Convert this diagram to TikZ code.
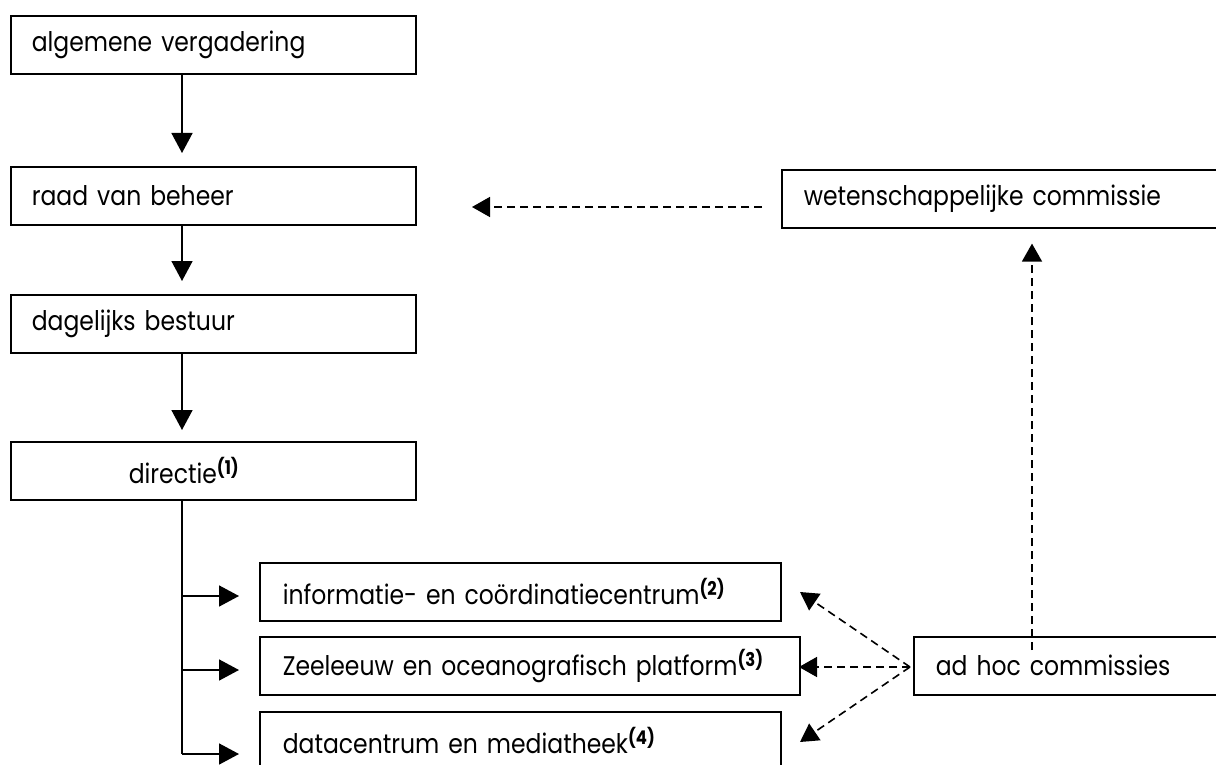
\documentclass[tikz,border=0pt]{standalone}
\usepackage{fontspec}
\setmainfont{Poppins}[FakeStretch=0.87]
\usetikzlibrary{arrows.meta}

\tikzset{
  orgbox/.style={draw, line width=1.6pt, anchor=north west, minimum height=58pt,
    inner xsep=21pt, inner ysep=0pt, align=left, font=\fontsize{27}{32}\selectfont},
  solidarrow/.style={line width=1.6pt, -{Triangle[length=20pt,width=21pt]}},
  dasharrow/.style={line width=1.6pt, dash pattern=on 8pt off 5pt,
    -{Triangle[length=18pt,width=20pt]}},
}
\newcommand{\noot}[1]{\textsuperscript{\bfseries(#1)}}

\begin{document}
\begin{tikzpicture}[x=1pt,y=-1pt]

    \useasboundingbox (0,0) rectangle (1216,765);
    \clip (0,0) rectangle (1216,765);

    % Draw the main chain
    \node[orgbox, text width=363pt] (alg) at (10,15) {algemene vergadering};
    \node[orgbox, text width=363pt] (raad) at (10,166) {raad van beheer};
    \node[orgbox, text width=363pt] (dag) at (10,294) {dagelijks bestuur};
    \node[orgbox, text width=363pt] (dir) at (10,441) {\hspace*{97pt}directie\noot{1}};
    \coordinate (spine) at (182,0);

    \draw[solidarrow, shorten >=13pt] (alg.south -| spine) -- (raad.north -| spine);
    \draw[solidarrow, shorten >=13pt] (raad.south -| spine) -- (dag.north -| spine);
    \draw[solidarrow, shorten >=11pt] (dag.south -| spine) -- (dir.north -| spine);

    % Draw the departments
    \node[orgbox, inner xsep=23pt, text width=475pt] (info) at (259,562) {informatie- en coördinatiecentrum\noot{2}};
    \node[orgbox, inner xsep=23pt, text width=494pt] (zee) at (259,636) {Zeeleeuw en oceanografisch platform\noot{3}};
    \node[orgbox, inner xsep=23pt, text width=475pt] (data) at (259,711) {datacentrum en mediatheek\noot{4}};

    % Draw the branches from the directie
    \coordinate (b1) at (182,596);
    \coordinate (b2) at (182,670);
    \coordinate (b3) at (182,754);
    \coordinate (e1) at (239,596);
    \coordinate (e2) at (239,670);
    \coordinate (e3) at (239,754);
    \draw[line width=1.6pt] (dir.south -| spine) -- (b3);
    \draw[solidarrow] (b1) -- (e1);
    \draw[solidarrow] (b2) -- (e2);
    \draw[solidarrow] (b3) -- (e3);

    % Draw the commissions
    \node[orgbox, inner xsep=22pt, text width=430pt] (wet) at (781,169) {wetenschappelijke commissie};
    \node[orgbox, inner xsep=22pt, text width=330pt] (adhoc) at (913,636) {ad hoc commissies};

    % Draw the dashed relations
    \coordinate (w0) at (762,207);
    \coordinate (w1) at (472,207);
    \draw[dasharrow] (w0) -- (w1);

    \coordinate (a0) at (910,667);
    \coordinate (t1) at (800,592);
    \coordinate (t2) at (799,667);
    \coordinate (t3) at (800,742);
    \draw[dasharrow] (a0) -- (t1);
    \draw[dasharrow] (a0) -- (t2);
    \draw[dasharrow] (a0) -- (t3);

    \coordinate (up) at (1032,650);
    \draw[dasharrow, shorten >=15pt] (up) -- (up |- wet.south);

\end{tikzpicture}
\end{document}
